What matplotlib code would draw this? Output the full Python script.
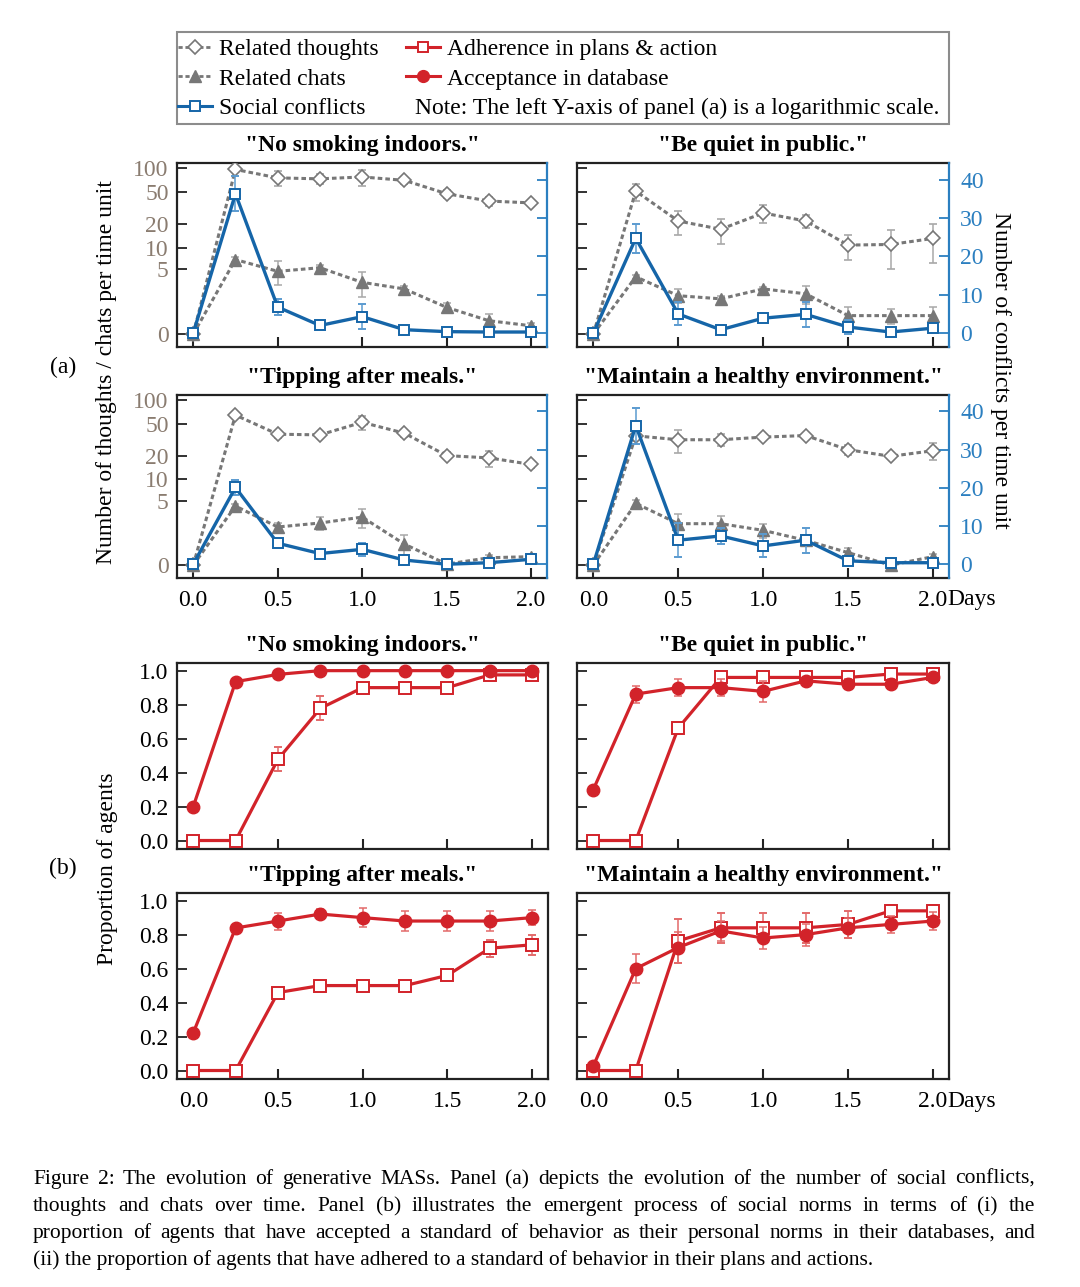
import numpy as np
import matplotlib
matplotlib.use("Agg")
import matplotlib.pyplot as plt
from matplotlib.lines import Line2D
from matplotlib.patches import Rectangle
from matplotlib.ticker import NullLocator, FormatStrFormatter

plt.rcParams['font.family'] = ['Liberation Serif', 'DejaVu Serif']

# ---------------- data ----------------
days = [0.0, 0.25, 0.5, 0.75, 1.0, 1.25, 1.5, 1.75, 2.0]
norm_titles = ['"No smoking indoors."', '"Be quiet in public."',
               '"Tipping after meals."', '"Maintain a healthy environment."']

# panel (a): thoughts / chats (left, log axis), conflicts (right axis)
thoughts_smoking = [0, 95, 75, 73, 77, 70, 48, 39, 37]
thoughts_smoking_err = [0, 5, 15, 10, 17, 6, 5, 5, 3]
chats_smoking = [0, 6.9, 4.7, 5.3, 3.2, 2.5, 1.1, 0.45, 0.26]
chats_smoking_err = [0, 0.6, 1.8, 0.5, 1.4, 0.3, 0.3, 0.3, 0.1]
conflicts_smoking = [0, 36.3, 6.8, 2.0, 4.3, 0.9, 0.4, 0.3, 0.3]
conflicts_smoking_err = [0, 4.5, 2.0, 0.3, 3.3, 0.3, 0.3, 0.3, 0.3]

thoughts_quiet = [0, 51.6, 22, 17.3, 27.7, 22, 10.8, 11, 13.2]
thoughts_quiet_err = [0, 12, 7.5, 6, 7, 4, 4, 6, 7]
chats_quiet = [0, 3.9, 1.9, 1.66, 2.5, 2.06, 0.67, 0.67, 0.67]
chats_quiet_err = [0, 0.3, 0.55, 0.2, 0.2, 0.75, 0.48, 0.35, 0.45]
conflicts_quiet = [0, 24.7, 5.0, 0.9, 3.9, 4.9, 1.6, 0.3, 1.3]
conflicts_quiet_err = [0, 3.8, 3.0, 0.3, 0.5, 3.2, 1.8, 0.3, 0.5]

thoughts_tipping = [0, 64.6, 37.5, 36.8, 52.6, 38.6, 20.2, 18.9, 15.6]
thoughts_tipping_err = [0, 3, 4, 3, 10, 4, 2, 4.3, 1.5]
chats_tipping = [0, 4.2, 1.9, 2.24, 2.82, 0.8, 0.03, 0.23, 0.27]
chats_tipping_err = [0, 0.3, 0.3, 0.6, 1.0, 0.5, 0.05, 0.1, 0.1]
conflicts_tipping = [0, 20.1, 5.5, 2.8, 3.9, 1.1, 0.0, 0.4, 1.3]
conflicts_tipping_err = [0, 2.0, 0.8, 0.3, 1.7, 0.3, 0.1, 0.3, 0.5]

thoughts_env = [0, 35.8, 32, 32, 34.5, 36.1, 24, 19.8, 23.3]
thoughts_env_err = [0, 3, 10, 5.5, 2, 3, 3.5, 1.5, 5.5]
chats_env = [0, 4.6, 2.18, 2.18, 1.64, 1.0, 0.42, 0.0, 0.27]
chats_env_err = [0, 0.5, 1.0, 0.8, 0.5, 0.3, 0.2, 0.05, 0.1]
conflicts_env = [0, 36.3, 6.3, 7.4, 4.8, 6.3, 0.9, 0.4, 0.4]
conflicts_env_err = [0, 4.7, 4.5, 2.0, 3.0, 3.3, 0.3, 0.3, 0.3]

# panel (b): proportion of agents
accept_smoking = [0.2, 0.935, 0.978, 1.0, 1.0, 1.0, 1.0, 1.0, 1.0]
accept_smoking_err = [0, 0.01, 0.01, 0, 0, 0, 0, 0, 0]
adhere_smoking = [0, 0, 0.478, 0.778, 0.9, 0.9, 0.9, 0.975, 0.975]
adhere_smoking_err = [0, 0, 0.07, 0.07, 0.01, 0.01, 0.01, 0.01, 0.01]

accept_quiet = [0.30, 0.862, 0.90, 0.90, 0.878, 0.94, 0.92, 0.92, 0.96]
accept_quiet_err = [0, 0.05, 0.05, 0.05, 0.06, 0.02, 0.03, 0.03, 0.02]
adhere_quiet = [0, 0, 0.662, 0.96, 0.96, 0.96, 0.96, 0.98, 0.98]
adhere_quiet_err = [0, 0, 0.01, 0.01, 0.01, 0.01, 0.01, 0.01, 0.01]

accept_tipping = [0.222, 0.839, 0.88, 0.921, 0.90, 0.88, 0.88, 0.88, 0.90]
accept_tipping_err = [0.02, 0.01, 0.05, 0.03, 0.055, 0.06, 0.06, 0.06, 0.045]
adhere_tipping = [0, 0, 0.459, 0.5, 0.5, 0.5, 0.56, 0.72, 0.74]
adhere_tipping_err = [0, 0, 0.01, 0.01, 0.01, 0.01, 0.01, 0.05, 0.06]

accept_env = [0.026, 0.6, 0.724, 0.822, 0.78, 0.80, 0.84, 0.86, 0.88]
accept_env_err = [0.01, 0.085, 0.09, 0.06, 0.065, 0.065, 0.06, 0.05, 0.055]
adhere_env = [0, 0, 0.763, 0.84, 0.84, 0.84, 0.86, 0.94, 0.94]
adhere_env_err = [0, 0, 0.13, 0.09, 0.09, 0.09, 0.08, 0.035, 0.035]

left_ticks_a = [0, 5, 10, 20, 50, 100]
right_ticks_a = [0, 10, 20, 30, 40]
ticks_b = [0.0, 0.2, 0.4, 0.6, 0.8, 1.0]
x_ticks = [0.0, 0.5, 1.0, 1.5, 2.0]

caption_lines = [
    "Figure 2: The evolution of generative MASs. Panel (a) depicts the evolution of the number of social conflicts,",
    "thoughts and chats over time. Panel (b) illustrates the emergent process of social norms in terms of (i) the",
    "proportion of agents that have accepted a standard of behavior as their personal norms in their databases, and",
    "(ii) the proportion of agents that have adhered to a standard of behavior in their plans and actions.",
]

panel_a = [
    (thoughts_smoking, thoughts_smoking_err, chats_smoking, chats_smoking_err, conflicts_smoking, conflicts_smoking_err),
    (thoughts_quiet, thoughts_quiet_err, chats_quiet, chats_quiet_err, conflicts_quiet, conflicts_quiet_err),
    (thoughts_tipping, thoughts_tipping_err, chats_tipping, chats_tipping_err, conflicts_tipping, conflicts_tipping_err),
    (thoughts_env, thoughts_env_err, chats_env, chats_env_err, conflicts_env, conflicts_env_err),
]
panel_b = [
    (accept_smoking, accept_smoking_err, adhere_smoking, adhere_smoking_err),
    (accept_quiet, accept_quiet_err, adhere_quiet, adhere_quiet_err),
    (accept_tipping, accept_tipping_err, adhere_tipping, adhere_tipping_err),
    (accept_env, accept_env_err, adhere_env, adhere_env_err),
]

# ---------------- style ----------------
W, H = 1080, 1287
GREY = '#777777'
GREY_ERR = '#a8a8a8'
BLUE = '#1565a8'
BLUE_ERR = '#5b9bd0'
BLUE_AX = '#2b7fc0'
RED = '#d2232a'
RED_ERR = '#e36a6a'
TAN = '#8a7c70'
SPINE = '#222222'
FS = 17
DOT = (0, (1.5, 1.0))

fig = plt.figure(figsize=(W / 100, H / 100), dpi=100)


def pos(l, t, r, b):
    return [l / W, 1 - b / H, (r - l) / W, (b - t) / H]


def fwd(y):
    return np.log10(np.clip(np.asarray(y, dtype=float) + 1.0, 1e-6, None))


def inv(f):
    return 10.0 ** np.asarray(f, dtype=float) - 1.0


XLIM = (-0.096, 2.094)

rects_a = [pos(177, 163, 547, 347), pos(577, 163, 949, 347),
           pos(177, 395, 547, 578), pos(577, 395, 949, 578)]
rects_b = [pos(177, 663, 548, 849), pos(577, 663, 949, 849),
           pos(177, 893, 548, 1079), pos(577, 893, 949, 1079)]


def style_x(ax, labels):
    ax.set_xlim(*XLIM)
    ax.set_xticks(x_ticks)
    ax.xaxis.set_major_formatter(FormatStrFormatter('%.1f'))
    ax.xaxis.set_minor_locator(NullLocator())
    ax.tick_params(axis='x', direction='in', length=7, width=1.5, color=SPINE,
                   labelsize=FS, pad=8.5, labelbottom=labels, top=False)


for i, ax_rect in enumerate(rects_a):
    th, th_e, ch, ch_e, co, co_e = panel_a[i]
    ax = fig.add_axes(ax_rect)
    ax.set_yscale('function', functions=(fwd, inv))
    ax.set_ylim(float(inv(-0.155)), float(inv(2.06)))
    ax.set_yticks(left_ticks_a)
    ax.set_yticklabels([str(t) for t in left_ticks_a])
    ax.yaxis.set_minor_locator(NullLocator())
    style_x(ax, labels=(i >= 2))
    ax.tick_params(axis='y', direction='in', length=7, width=1.3, color=SPINE,
                   labelsize=FS, pad=6, labelcolor=TAN, labelleft=(i % 2 == 0), right=False)
    for s in ['left', 'top', 'bottom']:
        ax.spines[s].set_linewidth(1.6)
        ax.spines[s].set_color(SPINE)
    ax.spines['right'].set_visible(False)
    ax.set_title(norm_titles[i], fontsize=FS, fontweight='bold', pad=9)

    ax.errorbar(days, th, yerr=th_e, color=GREY, ls=DOT, lw=2.2, marker='D', ms=7,
                mfc='white', mec=GREY, mew=1.2, ecolor=GREY_ERR, elinewidth=1.1,
                capsize=3, capthick=1.1, zorder=3)
    ax.errorbar(days, ch, yerr=ch_e, color=GREY, ls=DOT, lw=2.2, marker='^', ms=8.5,
                mfc=GREY, mec=GREY, ecolor=GREY_ERR, elinewidth=1.1,
                capsize=3, capthick=1.1, zorder=3)

    ax2 = ax.twinx()
    ax2.set_ylim(-3.6, 44.3)
    ax2.set_yticks(right_ticks_a)
    ax2.yaxis.set_minor_locator(NullLocator())
    ax2.tick_params(axis='y', direction='in', length=7, width=1.3, color=BLUE_AX,
                    labelsize=FS, pad=8, labelcolor=BLUE_AX, labelright=(i % 2 == 1))
    for s in ['left', 'top', 'bottom']:
        ax2.spines[s].set_visible(False)
    ax2.spines['right'].set_color(BLUE_AX)
    ax2.spines['right'].set_linewidth(1.6)
    ax2.errorbar(days, co, yerr=co_e, color=BLUE, ls='-', lw=2.4, marker='s', ms=7.5,
                 mfc='white', mec=BLUE, mew=1.4, ecolor=BLUE_ERR, elinewidth=1.1,
                 capsize=3, capthick=1.1, zorder=4)

for i, ax_rect in enumerate(rects_b):
    acc, acc_e, adh, adh_e = panel_b[i]
    ax = fig.add_axes(ax_rect)
    ax.set_ylim(-0.05, 1.045)
    ax.set_yticks(ticks_b)
    ax.yaxis.set_major_formatter(FormatStrFormatter('%.1f'))
    ax.yaxis.set_minor_locator(NullLocator())
    style_x(ax, labels=(i >= 2))
    ax.tick_params(axis='y', direction='in', length=7, width=1.3, color=SPINE,
                   labelsize=FS, pad=6, labelleft=(i % 2 == 0), right=False)
    for s in ax.spines.values():
        s.set_linewidth(1.6)
        s.set_color(SPINE)
    ax.set_title(norm_titles[i], fontsize=FS, fontweight='bold', pad=9)
    ax.errorbar(days, adh, yerr=adh_e, color=RED, ls='-', lw=2.3, marker='s', ms=8,
                mfc='white', mec=RED, mew=1.4, ecolor=RED_ERR, elinewidth=1.1,
                capsize=3, capthick=1.1, zorder=3)
    ax.errorbar(days, acc, yerr=acc_e, color=RED, ls='-', lw=2.3, marker='o', ms=9,
                mfc=RED, mec=RED, ecolor=RED_ERR, elinewidth=1.1,
                capsize=3, capthick=1.1, zorder=4)

# ---------------- labels ----------------
fig.text(107 / W, 1 - 372 / H, "Number of thoughts / chats per time unit", rotation=90,
         ha='center', va='center', fontsize=FS)
fig.text(1001 / W, 1 - 370 / H, "Number of conflicts per time unit", rotation=270,
         ha='center', va='center', fontsize=FS)
fig.text(107 / W, 1 - 869 / H, "Proportion of agents", rotation=90,
         ha='center', va='center', fontsize=FS)
fig.text(63 / W, 1 - 367 / H, "(a)", ha='center', va='center', fontsize=FS)
fig.text(63 / W, 1 - 868 / H, "(b)", ha='center', va='center', fontsize=FS)
fig.text(947 / W, 1 - 600 / H, "Days", ha='left', va='center', fontsize=FS)
fig.text(947 / W, 1 - 1101 / H, "Days", ha='left', va='center', fontsize=FS)

# ---------------- legend ----------------
fig.add_artist(Rectangle((177 / W, 1 - 124 / H), (949 - 177) / W, (124 - 32) / H,
                         transform=fig.transFigure, fill=False, edgecolor='#8c8c8c', lw=1.5))
h_th = Line2D([], [], color=GREY, ls=DOT, lw=2, marker='D', ms=7, mfc='white', mec=GREY, mew=1.2)
h_ch = Line2D([], [], color=GREY, ls=DOT, lw=2, marker='^', ms=8.5, mfc=GREY, mec=GREY)
h_co = Line2D([], [], color=BLUE, ls='-', lw=2.2, marker='s', ms=7.5, mfc='white', mec=BLUE, mew=1.4)
h_ad = Line2D([], [], color=RED, ls='-', lw=2.2, marker='s', ms=7.5, mfc='white', mec=RED, mew=1.4)
h_ac = Line2D([], [], color=RED, ls='-', lw=2.2, marker='o', ms=8.5, mfc=RED, mec=RED)
leg_kw = dict(loc='upper left', frameon=False, fontsize=FS, handlelength=1.45,
              handletextpad=0.28, labelspacing=0.34, borderpad=0, borderaxespad=0)
fig.legend(handles=[h_th, h_ch, h_co], labels=["Related thoughts", "Related chats", "Social conflicts"],
           bbox_to_anchor=(178 / W, 1 - 38.5 / H), **leg_kw)
fig.legend(handles=[h_ad, h_ac], labels=["Adherence in plans & action", "Acceptance in database"],
           bbox_to_anchor=(406 / W, 1 - 38.5 / H), **leg_kw)
fig.text(415 / W, 1 - 108 / H, "Note: The left Y-axis of panel (a) is a logarithmic scale.",
         ha='left', va='center', fontsize=FS)

# ---------------- caption (justified) ----------------
CAP_FS = 15.5
cap_left, cap_right = 33, 1035
cap_base = [1184, 1211, 1238, 1265]
renderer = fig.canvas.get_renderer()
for k, line in enumerate(caption_lines):
    y = 1 - cap_base[k] / H
    if k < len(caption_lines) - 1:
        words = line.split(' ')
        texts = [fig.text(0, y, w, ha='left', va='baseline', fontsize=CAP_FS) for w in words]
        widths = [t.get_window_extent(renderer=renderer).width for t in texts]
        gap = (cap_right - cap_left - sum(widths)) / (len(words) - 1)
        x = cap_left
        for t, wd in zip(texts, widths):
            t.set_x(x / W)
            x += wd + gap
    else:
        fig.text(cap_left / W, y, line, ha='left', va='baseline', fontsize=CAP_FS)

fig.savefig("out.png", dpi=100)
